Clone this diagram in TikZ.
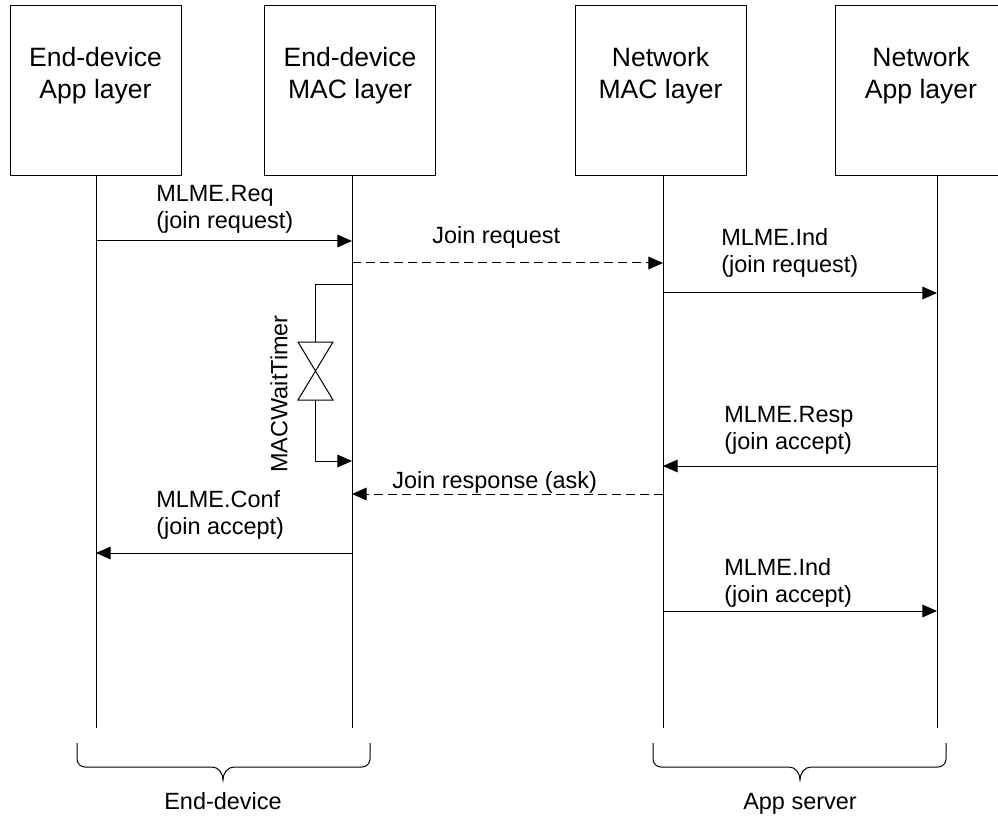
\documentclass[tikz,border=0pt]{standalone}
\usepackage{fontspec}
\setmainfont{Liberation Sans}
\usetikzlibrary{arrows.meta}

\begin{document}
\begin{tikzpicture}[x=0.75pt,y=-0.75pt]
	\tikzset{layerbox/.style={draw, line width=0.75pt, minimum width=128.25pt,
				minimum height=127.5pt, inner sep=0pt}}
	\tikzset{layertext/.style={align=center, inner sep=0pt,
				font=\fontsize{19.9}{24}\selectfont}}
	\tikzset{msgtext/.style={align=left, anchor=west, inner sep=0pt,
				font=\fontsize{17.6}{20.25}\selectfont}}
	\tikzset{lifeline/.style={line width=0.75pt}}
	\tikzset{msgline/.style={line width=0.75pt, -{Triangle[length=11pt,width=9.5pt]}}}
	\tikzset{msgdash/.style={msgline, dash pattern=on 6.75pt off 3.75pt}}

	\useasboundingbox (0,0) rectangle (998,816);

	% layer boxes
	\node[layerbox] (b1) at (95.5,91) {};
	\node[layerbox] (b2) at (350,91) {};
	\node[layerbox] (b3) at (660.5,91) {};
	\node[layerbox] (b4) at (921,91) {};
	\node[layertext] (t1) at (95.5,76) {End-device\\App layer};
	\node[layertext] (t2) at (350,76) {End-device\\MAC layer};
	\node[layertext] (t3) at (660.5,76) {Network\\MAC layer};
	\node[layertext] (t4) at (921,76) {Network\\App layer};

	% lifelines
	\coordinate (l1) at (96,176);
	\coordinate (l2) at (352,176);
	\coordinate (l3) at (663,176);
	\coordinate (l4) at (937,176);
	\coordinate (e1) at (96,728);
	\coordinate (e2) at (352,728);
	\coordinate (e3) at (663,728);
	\coordinate (e4) at (937,728);
	\draw[lifeline] (l1) -- (e1);
	\draw[lifeline] (l2) -- (e2);
	\draw[lifeline] (l3) -- (e3);
	\draw[lifeline] (l4) -- (e4);

	% join request
	\coordinate (req1) at (96,241);
	\coordinate (req2) at (352,241);
	\coordinate (jr1) at (352,263);
	\coordinate (jr2) at (663,263);
	\coordinate (ind1) at (663,293);
	\coordinate (ind2) at (937,293);
	\draw[msgline] (req1) -- (req2);
	\draw[msgdash] (jr1) -- (jr2);
	\draw[msgline] (ind1) -- (ind2);
	\node[msgtext] (req) at (156,209) {MLME.Req\\(join request)};
	\node[msgtext, anchor=base west] (jr) at (432,244) {Join request};
	\node[msgtext] (ind) at (721,253) {MLME.Ind\\(join request)};

	% wait timer
	\coordinate (tm1) at (352,285);
	\coordinate (tm2) at (315,285);
	\coordinate (tm3) at (315,342);
	\coordinate (tm4) at (315,400);
	\coordinate (tm5) at (315,461);
	\coordinate (tm6) at (352,461);
	\coordinate (h1) at (298,342);
	\coordinate (h2) at (333,342);
	\coordinate (h3) at (298,400);
	\coordinate (h4) at (333,400);
	\draw[lifeline] (tm1) -- (tm2) -- (tm3);
	\draw[lifeline] (h1) -- (h2) -- (h3) -- (h4) -- cycle;
	\draw[msgline] (tm4) -- (tm5) -- (tm6);
	\node[msgtext, anchor=center, rotate=90] (timer) at (279,394) {MACWaitTimer};

	% join accept
	\coordinate (resp1) at (937,466);
	\coordinate (resp2) at (663,466);
	\coordinate (ans1) at (663,494);
	\coordinate (ans2) at (352,494);
	\coordinate (conf1) at (352,553);
	\coordinate (conf2) at (96,553);
	\coordinate (acc1) at (663,611);
	\coordinate (acc2) at (937,611);
	\draw[msgline] (resp1) -- (resp2);
	\draw[msgdash] (ans1) -- (ans2);
	\draw[msgline] (conf1) -- (conf2);
	\draw[msgline] (acc1) -- (acc2);
	\node[msgtext] (resp) at (724,430) {MLME.Resp\\(join accept)};
	\node[msgtext, anchor=base west] (ans) at (392,488) {Join response (ask)};
	\node[msgtext] (conf) at (156,515) {MLME.Conf\\(join accept)};
	\node[msgtext] (acc) at (724,583) {MLME.Ind\\(join accept)};

	% braces
	\draw[lifeline] (77,743) -- (77,759) to[out=-90,in=180] (85,767) -- (212,767)
		to[out=0,in=90] (223,780) to[out=90,in=180] (234,767) -- (362,767)
		to[out=0,in=-90] (370,759) -- (370,743);
	\draw[lifeline] (653,743) -- (653,759) to[out=-90,in=180] (661,767) -- (789,767)
		to[out=0,in=90] (800,780) to[out=90,in=180] (811,767) -- (938,767)
		to[out=0,in=-90] (946,759) -- (946,743);
	\node[msgtext, anchor=base] (dev) at (223,809) {End-device};
	\node[msgtext, anchor=base] (srv) at (800,809) {App server};
\end{tikzpicture}
\end{document}
